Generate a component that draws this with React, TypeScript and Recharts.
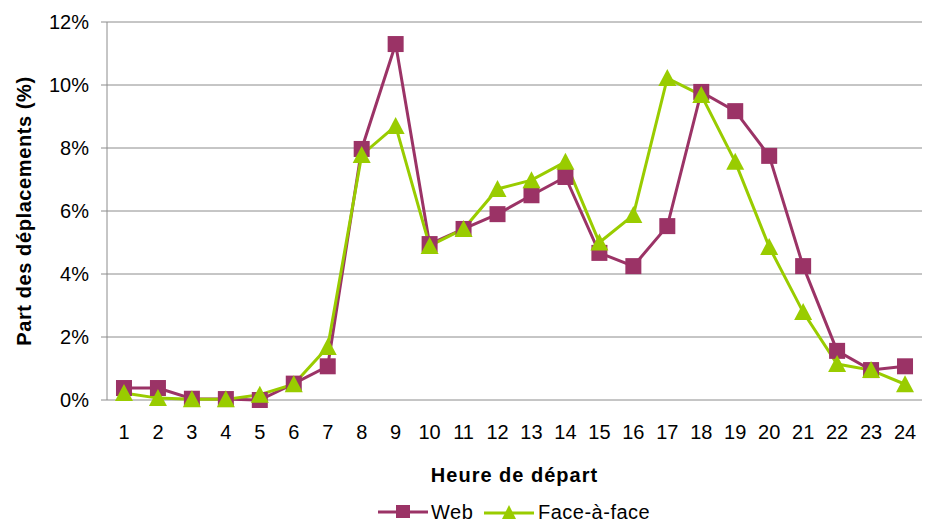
import React from 'react';
import { LineChart, Line, XAxis, YAxis, CartesianGrid, Legend } from 'recharts';

const hours = [1, 2, 3, 4, 5, 6, 7, 8, 9, 10, 11, 12, 13, 14, 15, 16, 17, 18, 19, 20, 21, 22, 23, 24];
const webValues = [0.38, 0.38, 0.04, 0.03, 0.0, 0.52, 1.07, 7.97, 11.3, 4.95, 5.43, 5.9, 6.5, 7.08, 4.67, 4.25, 5.52, 9.78, 9.17, 7.75, 4.25, 1.56, 0.95, 1.07];
const faceValues = [0.22, 0.06, 0.02, 0.02, 0.17, 0.5, 1.68, 7.78, 8.7, 4.89, 5.43, 6.7, 6.98, 7.56, 5.0, 5.87, 10.22, 9.68, 7.56, 4.86, 2.79, 1.14, 0.95, 0.5];
const yTicks = [0, 2, 4, 6, 8, 10, 12];

const WEB_COLOR = '#9B3366';
const FACE_COLOR = '#99CC00';
const GRID = '#8C8C8C';
const FONT = '"Liberation Sans", Arial, sans-serif';

const data = hours.map((h, i) => ({ hour: h, web: webValues[i], face: faceValues[i] }));
const boundaryTicks = [hours[0] - 0.5, ...hours.map((h) => h + 0.5)];

const SquareDot = (props: any) => {
  const { cx, cy, key } = props;
  if (cx == null || cy == null) return null;
  return <rect key={key} x={cx - 8} y={cy - 8} width={16} height={16} fill={WEB_COLOR} />;
};

const TriangleDot = (props: any) => {
  const { cx, cy, key } = props;
  if (cx == null || cy == null) return null;
  return (
    <polygon
      key={key}
      points={`${cx},${cy - 9} ${cx + 9},${cy + 8} ${cx - 9},${cy + 8}`}
      fill={FACE_COLOR}
    />
  );
};

const LegendContent = () => (
  <div
    style={{
      position: 'relative',
      width: 926,
      height: 20,
      fontFamily: FONT,
      fontSize: 20,
      letterSpacing: 0.5,
      color: '#000',
    }}
  >
    <svg width={50} height={20} style={{ position: 'absolute', left: 378, top: 0 }}>
      <line x1={0} y1={10} x2={50} y2={10} stroke={WEB_COLOR} strokeWidth={3} />
      <rect x={18} y={3} width={14} height={13} fill={WEB_COLOR} />
    </svg>
    <span style={{ position: 'absolute', left: 431, top: 0, lineHeight: '20px' }}>Web</span>
    <svg width={50} height={20} style={{ position: 'absolute', left: 484, top: 0 }}>
      <line x1={0} y1={11} x2={50} y2={11} stroke={FACE_COLOR} strokeWidth={3} />
      <polygon points="25,3 32,17 18,17" fill={FACE_COLOR} />
    </svg>
    <span style={{ position: 'absolute', left: 538, top: 0, lineHeight: '20px' }}>Face-à-face</span>
  </div>
);

export default function App() {
  return (
    <div style={{ position: 'absolute', left: 0, top: 0, width: 926, height: 525, background: '#fff' }}>
      <LineChart
        width={926}
        height={525}
        data={data}
        margin={{ top: 22, right: 4, left: 0, bottom: 41 }}
      >
        <CartesianGrid vertical={false} stroke={GRID} strokeWidth={1} xAxisId="lab" />
        <XAxis
          xAxisId="bnd"
          dataKey="hour"
          type="number"
          domain={[0.5, 24.5]}
          ticks={boundaryTicks}
          tick={false}
          tickSize={6}
          height={0}
          axisLine={{ stroke: GRID }}
          tickLine={{ stroke: GRID }}
          interval={0}
          allowDataOverflow
        />
        <XAxis
          xAxisId="lab"
          dataKey="hour"
          type="number"
          domain={[0.5, 24.5]}
          ticks={hours}
          interval={0}
          tickSize={0}
          tickMargin={25}
          axisLine={false}
          tickLine={false}
          height={84}
          tick={{ fill: '#000', fontSize: 20, fontFamily: FONT }}
          label={{
            value: 'Heure de départ',
            position: 'insideBottom',
            offset: 2,
            fill: '#000',
            fontSize: 20,
            fontWeight: 'bold',
            fontFamily: FONT,
            style: { letterSpacing: 1 },
          }}
        />
        <YAxis
          domain={[0, 12]}
          ticks={yTicks}
          width={107}
          tickSize={6}
          tickMargin={12}
          axisLine={{ stroke: GRID }}
          tickLine={{ stroke: GRID }}
          tickFormatter={(v: number) => `${v}%`}
          tick={{ fill: '#000', fontSize: 20, fontFamily: FONT }}
          label={{
            value: 'Part des déplacements (%)',
            angle: -90,
            position: 'insideLeft',
            offset: 24,
            fill: '#000',
            fontSize: 20,
            fontWeight: 'bold',
            fontFamily: FONT,
            style: { textAnchor: 'middle', letterSpacing: 0.6 },
          }}
        />
        <Line
          xAxisId="lab"
          dataKey="web"
          name="Web"
          stroke={WEB_COLOR}
          strokeWidth={3}
          dot={SquareDot}
          activeDot={false}
          isAnimationActive={false}
        />
        <Line
          xAxisId="lab"
          dataKey="face"
          name="Face-à-face"
          stroke={FACE_COLOR}
          strokeWidth={3}
          dot={TriangleDot}
          activeDot={false}
          isAnimationActive={false}
        />
        <Legend
          layout="horizontal"
          verticalAlign="middle"
          align="center"
          content={LegendContent}
          wrapperStyle={{ position: 'absolute', top: 502, left: 0, width: 926 }}
        />
      </LineChart>
    </div>
  );
}
